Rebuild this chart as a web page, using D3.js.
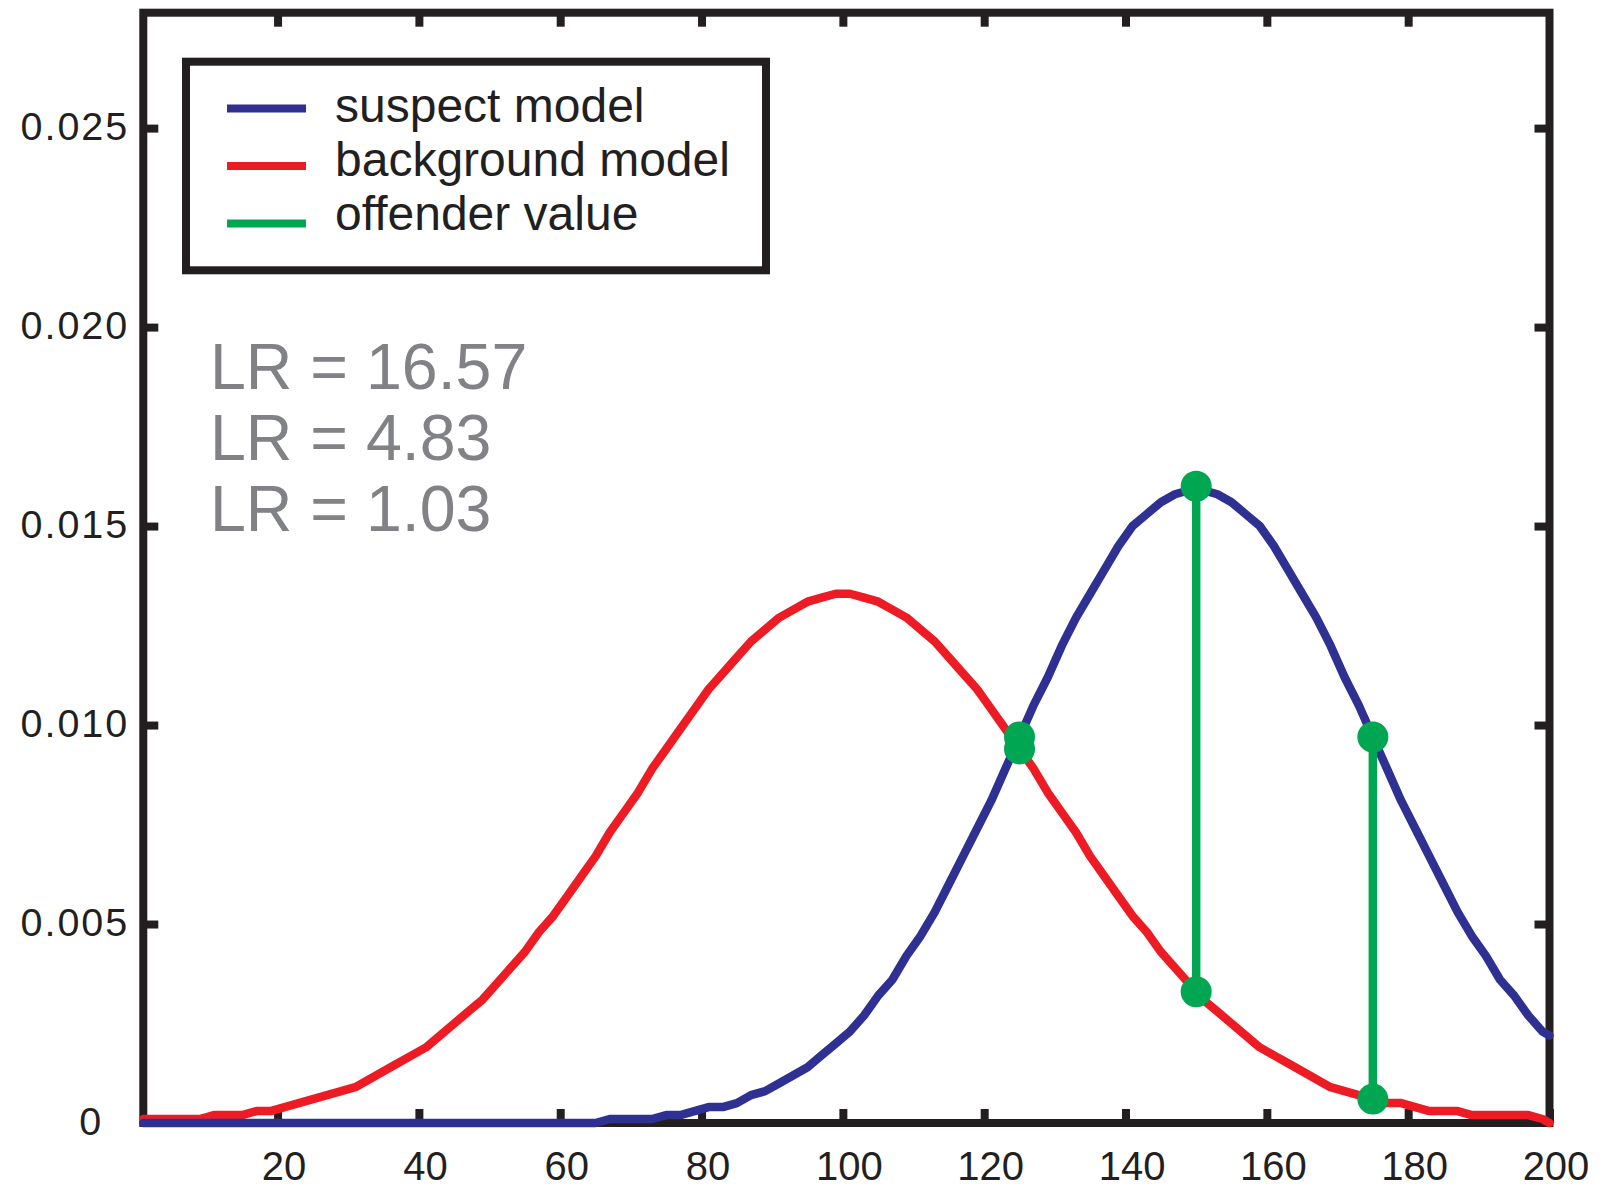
<!DOCTYPE html>
<html><head><meta charset="utf-8">
<script src="https://cdn.jsdelivr.net/npm/d3@7"></script>
<style>body{margin:0;background:#fff}svg{display:block}</style>
</head><body><svg id="chart" width="1606" height="1190"></svg>
<script>
// ---- data ----
const xValues = [1,3,5,7,9,11,13,15,17,19,21,23,25,27,29,31,33,35,37,39,41,43,45,47,49,
  51,53,55,57,59,61,63,65,67,69,71,73,75,77,79,81,83,85,87,89,91,93,95,97,99,
  101,103,105,107,109,111,113,115,117,119,121,123,125,127,129,131,133,135,137,139,141,143,145,147,149,
  151,153,155,157,159,161,163,165,167,169,171,173,175,177,179,181,183,185,187,189,191,193,195,197,199,200];
const suspectModel = [0,0,0,0,0,0,0,0,0,0,0,0,0,0,0,0,0,0,0,0,0,0,0,0,0,
  0,0,0,0,0,0,0,0,0.0001,0.0001,0.0001,0.0001,0.0002,0.0002,0.0003,0.0004,0.0004,0.0005,0.0007,0.0008,0.0010,0.0012,0.0014,0.0017,0.0020,
  0.0023,0.0027,0.0032,0.0036,0.0042,0.0047,0.0053,0.0060,0.0067,0.0074,0.0081,0.0089,0.0097,0.0105,0.0112,0.0120,0.0127,0.0133,0.0139,0.0145,0.0150,0.0153,0.0156,0.0158,0.0159,
  0.0159,0.0158,0.0156,0.0153,0.0150,0.0145,0.0139,0.0133,0.0127,0.0120,0.0112,0.0105,0.0097,0.0089,0.0081,0.0074,0.0067,0.0060,0.0053,0.0047,0.0042,0.0036,0.0032,0.0027,0.0023,0.0022];
const backgroundModel = [0.0001,0.0001,0.0001,0.0001,0.0001,0.0002,0.0002,0.0002,0.0003,0.0003,0.0004,0.0005,0.0006,0.0007,0.0008,0.0009,0.0011,0.0013,0.0015,0.0017,0.0019,0.0022,0.0025,0.0028,0.0031,
  0.0035,0.0039,0.0043,0.0048,0.0052,0.0057,0.0062,0.0067,0.0073,0.0078,0.0083,0.0089,0.0094,0.0099,0.0104,0.0109,0.0113,0.0117,0.0121,0.0124,0.0127,0.0129,0.0131,0.0132,0.0133,
  0.0133,0.0132,0.0131,0.0129,0.0127,0.0124,0.0121,0.0117,0.0113,0.0109,0.0104,0.0099,0.0094,0.0089,0.0083,0.0078,0.0073,0.0067,0.0062,0.0057,0.0052,0.0048,0.0043,0.0039,0.0035,
  0.0031,0.0028,0.0025,0.0022,0.0019,0.0017,0.0015,0.0013,0.0011,0.0009,0.0008,0.0007,0.0006,0.0005,0.0005,0.0004,0.0003,0.0003,0.0003,0.0002,0.0002,0.0002,0.0002,0.0002,0.0001,0.0000];
const offenderX = [125, 150, 175];
const offenderSuspect = [0.0097, 0.0160, 0.0097];
const offenderBackground = [0.0094, 0.0033, 0.0006];
const xTicks = [20, 40, 60, 80, 100, 120, 140, 160, 180, 200];
const yTicks = [0, 0.005, 0.010, 0.015, 0.020, 0.025];
const yTickLabels = ["0", "0.005", "0.010", "0.015", "0.020", "0.025"];
const legendLabels = ["suspect model", "background model", "offender value"];
const lrLabels = ["LR = 16.57", "LR = 4.83", "LR = 1.03"];

// ---- styles ----
const frameColor = "#231f20";
const blue = "#2e3192", red = "#ed1c24", green = "#00a651", grey = "#808285";
const font = "'Liberation Sans', Arial, Helvetica, sans-serif";

const svg = d3.select("#chart");
const x = d3.scaleLinear().domain([1, 200]).range([143.3, 1549.5]);
const y = d3.scaleLinear().domain([0, 0.0279]).range([1123, 12.7]);

// frame
svg.append("rect")
  .attr("x", x(1)).attr("y", y(0.0279))
  .attr("width", x(200) - x(1)).attr("height", y(0) - y(0.0279))
  .attr("fill", "none").attr("stroke", frameColor).attr("stroke-width", 8);

function styleTicks(g) {
  g.select(".domain").remove();
  g.selectAll(".tick line").attr("stroke", frameColor).attr("stroke-width", 8);
}
// bottom axis with labels
const gxb = svg.append("g").attr("transform", `translate(0,${y(0)})`)
  .call(d3.axisBottom(x).tickValues(xTicks).tickSize(-14).tickFormat(d3.format("d")));
styleTicks(gxb);
gxb.selectAll(".tick text").attr("y", 57).attr("dy", 0).attr("dx", 6)
  .attr("font-family", font).attr("font-size", 40).attr("fill", frameColor);
// top axis (ticks only)
const gxt = svg.append("g").attr("transform", `translate(0,${y(0.0279)})`)
  .call(d3.axisTop(x).tickValues(xTicks.slice(0, -1)).tickSize(-14).tickFormat(""));
styleTicks(gxt);
// left axis with labels
const gyl = svg.append("g").attr("transform", `translate(${x(1)},0)`)
  .call(d3.axisLeft(y).tickValues(yTicks).tickSize(-15).tickFormat((d, i) => yTickLabels[i]));
styleTicks(gyl);
gyl.selectAll(".tick text").attr("x", -14).attr("dy", 11)
  .attr("font-family", font).attr("font-size", 39.5).attr("letter-spacing", 2)
  .attr("fill", frameColor).attr("text-anchor", "end");
gyl.selectAll(".tick text").filter(d => d === 0).attr("x", -40);
gyl.selectAll(".tick").filter(d => d === 0).select("line").remove();
// right axis ticks
const gyr = svg.append("g").attr("transform", `translate(${x(200)},0)`)
  .call(d3.axisRight(y).tickValues(yTicks.slice(1)).tickSize(-15).tickFormat(""));
styleTicks(gyr);

// curves
const line = d3.line().x((d, i) => x(xValues[i])).y(d => y(d));
svg.append("path").datum(backgroundModel).attr("d", line)
  .attr("fill", "none").attr("stroke", red).attr("stroke-width", 8.5)
  .attr("stroke-linejoin", "round").attr("stroke-linecap", "round");
svg.append("path").datum(suspectModel).attr("d", line)
  .attr("fill", "none").attr("stroke", blue).attr("stroke-width", 8.5)
  .attr("stroke-linejoin", "round").attr("stroke-linecap", "round");

// offender values
const off = svg.append("g");
off.selectAll("line").data(offenderX).join("line")
  .attr("x1", d => x(d)).attr("x2", d => x(d))
  .attr("y1", (d, i) => y(offenderBackground[i])).attr("y2", (d, i) => y(offenderSuspect[i]))
  .attr("stroke", green).attr("stroke-width", 8.5);
off.selectAll("circle.s").data(offenderX).join("circle").attr("class", "s")
  .attr("cx", d => x(d)).attr("cy", (d, i) => y(offenderSuspect[i])).attr("r", 15.5).attr("fill", green);
off.selectAll("circle.b").data(offenderX).join("circle").attr("class", "b")
  .attr("cx", d => x(d)).attr("cy", (d, i) => y(offenderBackground[i])).attr("r", 15.5).attr("fill", green);

// legend
const lg = svg.append("g");
lg.append("rect").attr("x", 186).attr("y", 61.7).attr("width", 580).attr("height", 208.6)
  .attr("fill", "#fff").attr("stroke", frameColor).attr("stroke-width", 8);
const legendColors = [blue, red, green];
const legendLineY = [108.5, 166, 223.5];
const legendTextY = [122, 176, 230];
lg.selectAll("line").data(legendLabels).join("line")
  .attr("x1", 227).attr("x2", 306)
  .attr("y1", (d, i) => legendLineY[i]).attr("y2", (d, i) => legendLineY[i])
  .attr("stroke", (d, i) => legendColors[i]).attr("stroke-width", 8);
lg.selectAll("text").data(legendLabels).join("text")
  .attr("x", 335).attr("y", (d, i) => legendTextY[i]).text(d => d)
  .attr("font-family", font).attr("font-size", 48).attr("fill", frameColor);

// LR annotations
svg.append("g").selectAll("text").data(lrLabels).join("text")
  .attr("x", 210).attr("y", (d, i) => [388.5, 459.5, 530.7][i]).text(d => d)
  .attr("font-family", font).attr("font-size", 64.5).attr("fill", grey);
</script>
</body></html>
